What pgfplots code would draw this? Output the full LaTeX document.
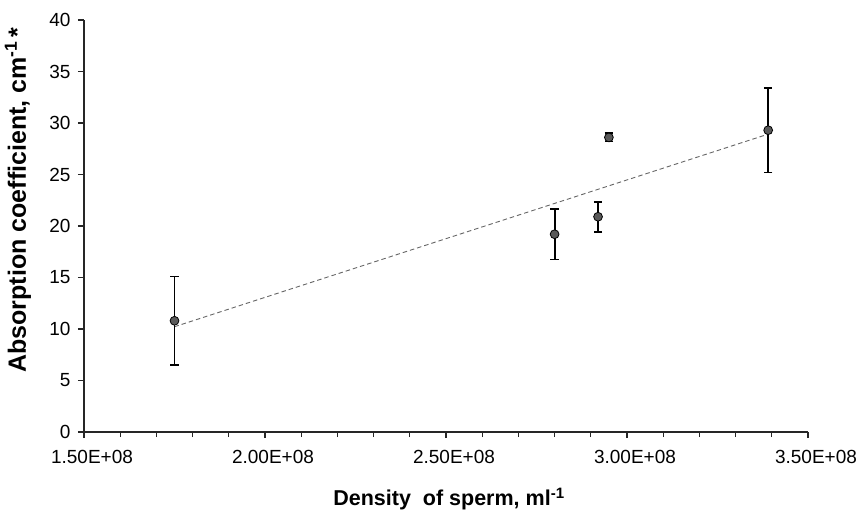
\documentclass[border=0pt]{standalone}
\usepackage{pgfplots}
\pgfplotsset{compat=1.18}
\usepackage{fontspec}
\setmainfont{Liberation Sans}
\pgfplotsset{
  every tick label/.append style={font=\fontsize{19pt}{22pt}\selectfont},
  every x tick label/.append style={yshift=-9pt, xshift=8pt},
  every y tick label/.append style={xshift=-4pt},
}
\begin{document}
\begin{tikzpicture}
\useasboundingbox (-84pt,-79pt) rectangle (780pt,432pt);
\begin{axis}[
  at={(0pt,0pt)}, anchor=origin,
  scale only axis, width=724pt, height=412pt,
  xmin=1.5, xmax=3.5, ymin=0, ymax=40,
  axis x line*=bottom, axis y line*=left,
  axis line style={line width=1.2pt, color=black!85},
  tick align=outside,
  tick style={line width=1.2pt, color=black!85},
  major tick length=6pt, minor tick length=5pt,
  xtick={1.5,2,2.5,3,3.5},
  xticklabels={1.50E+08,2.00E+08,2.50E+08,3.00E+08,3.50E+08},
  minor x tick num=4,
  ytick={0,5,...,40},
  xlabel={\textbf{Density\ \ of sperm, ml\textsuperscript{-1}}},
  ylabel={\textbf{Absorption coefficient, cm\textsuperscript{-1}\,*}},
  xlabel style={font=\fontsize{21.5pt}{25pt}\selectfont, at={(axis description cs:0.5,0)}, anchor=center, yshift=-67pt, xshift=3pt},
  ylabel style={font=\fontsize{25pt}{29pt}\selectfont, at={(axis description cs:0,0.5)}, anchor=center, yshift=66pt, xshift=26pt},
  clip=false,
  /pgf/number format/assume math mode=true,
]
\addplot[gray!80!black, line width=0.9pt, dash pattern=on 4.5pt off 3pt] coordinates {(1.75,10.22) (3.39,28.92)};
\addplot[only marks, mark=*, mark size=4.4pt,
  mark options={fill=black!65, draw=black, line width=0.8pt},
  error bars/.cd, y dir=both, y explicit,
  error bar style={line width=1.8pt, black},
  error mark options={rotate=90, mark size=4.2pt, line width=1.8pt, black}]
  coordinates {
  (1.75,10.8) +- (0,4.3)
  (2.80,19.2) +- (0,2.45)
  (2.92,20.9) +- (0,1.45)
  (2.95,28.6) +- (0,0.4)
  (3.39,29.3) +- (0,4.1)
  };
\end{axis}
\end{tikzpicture}
\end{document}
